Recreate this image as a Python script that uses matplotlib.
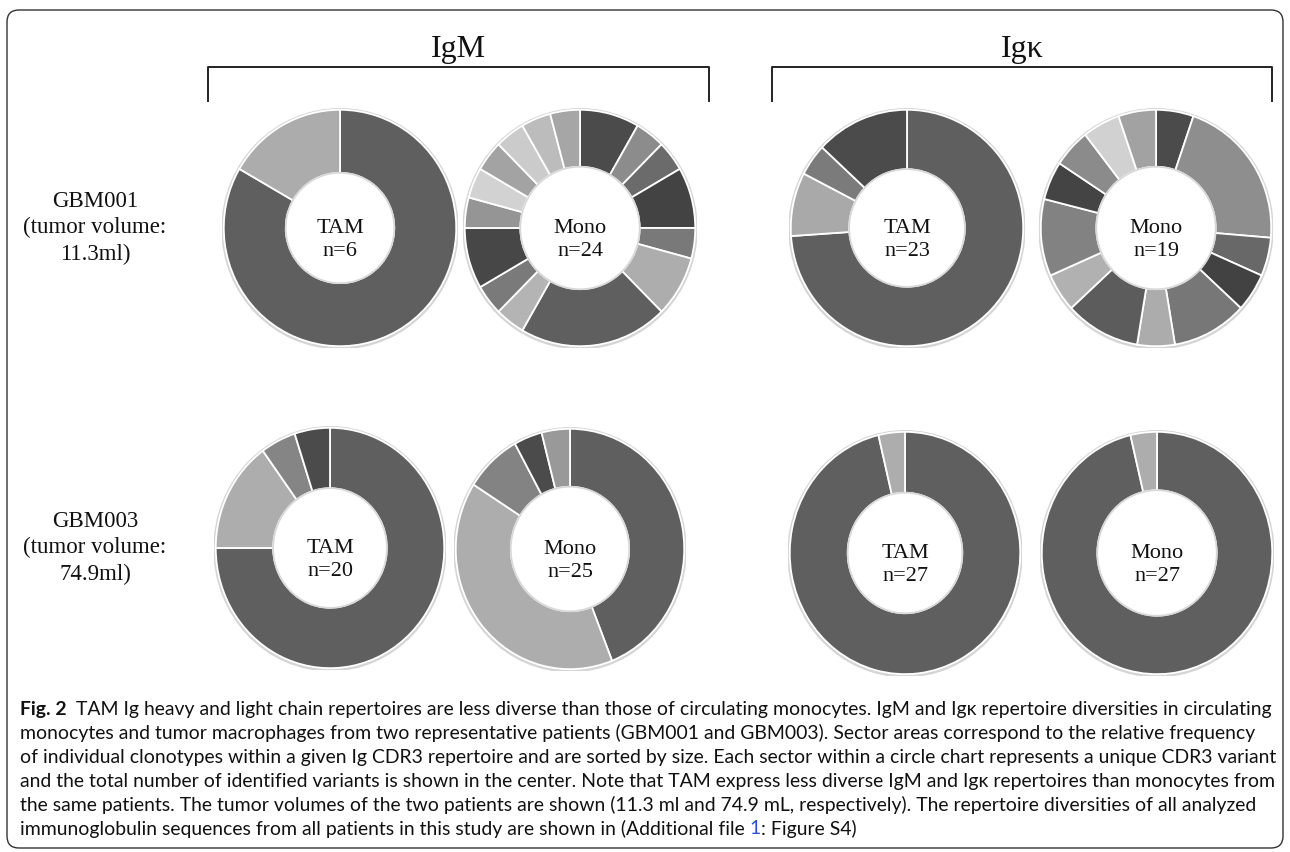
import matplotlib
matplotlib.use("Agg")
import matplotlib.pyplot as plt
from matplotlib.patches import Circle, FancyBboxPatch

W, H = 1290, 852

# sequence counts per clonotype (clockwise from 12 o'clock) and their grey tones
igm_001_tam = [5, 1]
igm_001_tam_col = ["#5f5f5f", "#acacac"]
igm_001_mono = [2, 1, 1, 2, 1, 2, 5, 1, 1, 2, 1, 1, 1, 1, 1, 1]
igm_001_mono_col = ["#4b4b4b", "#8c8c8c", "#6b6b6b", "#434343", "#797979", "#adadad",
                    "#5f5f5f", "#b4b4b4", "#7a7a7a", "#474747", "#959595", "#d2d2d2",
                    "#a3a3a3", "#cbcbcb", "#bcbcbc", "#a6a6a6"]
igk_001_tam = [17, 2, 1, 3]
igk_001_tam_col = ["#5f5f5f", "#a9a9a9", "#7b7b7b", "#4b4b4b"]
igk_001_mono = [1, 4, 1, 1, 2, 1, 2, 1, 2, 1, 1, 1, 1]
igk_001_mono_col = ["#4b4b4b", "#8e8e8e", "#686868", "#424242", "#777777", "#acacac",
                    "#5c5c5c", "#b1b1b1", "#828282", "#444444", "#8b8b8b", "#d1d1d1",
                    "#a2a2a2"]
igm_003_tam = [15, 3, 1, 1]
igm_003_tam_col = ["#5f5f5f", "#adadad", "#858585", "#4b4b4b"]
igm_003_mono = [11, 10, 2, 1, 1]
igm_003_mono_col = ["#5f5f5f", "#adadad", "#838383", "#4b4b4b", "#999999"]
igk_003_tam = [26, 1]
igk_003_tam_col = ["#5f5f5f", "#adadad"]
igk_003_mono = [26, 1]
igk_003_mono_col = ["#5f5f5f", "#adadad"]

chains = ["IgM", "Igκ"]
patients = ["GBM001\n(tumor volume:\n11.3ml)", "GBM003\n(tumor volume:\n74.9ml)"]

caption_lines = [
    "TAM Ig heavy and light chain repertoires are less diverse than those of circulating monocytes. IgM and Igκ repertoire diversities in circulating",
    "monocytes and tumor macrophages from two representative patients (GBM001 and GBM003). Sector areas correspond to the relative frequency",
    "of individual clonotypes within a given Ig CDR3 repertoire and are sorted by size. Each sector within a circle chart represents a unique CDR3 variant",
    "and the total number of identified variants is shown in the center. Note that TAM express less diverse IgM and Igκ repertoires than monocytes from",
    "the same patients. The tumor volumes of the two patients are shown (11.3 ml and 74.9 mL, respectively). The repertoire diversities of all analyzed",
    "immunoglobulin sequences from all patients in this study are shown in (Additional file ",
]

SERIF = "Liberation Serif"
SANS = "Lato"

fig = plt.figure(figsize=(W / 100, H / 100), dpi=100)
bg = fig.add_axes([0, 0, 1, 1])
bg.set_xlim(0, W)
bg.set_ylim(H, 0)
bg.axis("off")

# outer frame
bg.add_patch(FancyBboxPatch((7, 10), 1276, 838, boxstyle="round,pad=0,rounding_size=12",
                            fill=False, edgecolor="#333333", linewidth=1.0))

# chain headers and brackets
for name, (x0, x1) in zip(chains, [(208, 709), (772, 1272)]):
    bg.text((x0 + x1) / 2, 49, name, family=SERIF, fontsize=23, ha="center", va="center",
            color="#111111")
    bg.plot([x0, x0, x1, x1], [101, 67, 67, 101], color="#222222", lw=1.4)

# patient labels
for lab, y in zip(patients, [228, 548]):
    bg.text(95, y, lab, family=SERIF, fontsize=16.5, ha="center", va="center",
            linespacing=1.35, color="#111111")


def donut(cx, cy, rx, ry, counts, colors, label, hole):
    ax = fig.add_axes([(cx - rx) / W, 1 - (cy + ry) / H, 2 * rx / W, 2 * ry / H])
    ax.add_patch(Circle((0, -0.006), 1.0, color="#d5d5d5", zorder=0))
    ax.pie(counts, colors=colors, startangle=90, counterclock=False, radius=0.985,
           wedgeprops=dict(width=0.985 - hole, edgecolor="white", linewidth=1.3))
    ax.add_patch(Circle((0, 0), hole, facecolor="white", edgecolor="#d8d8d8", lw=1.2,
                        zorder=5))
    ax.set_aspect("auto")
    ax.set_xlim(-1, 1)
    ax.set_ylim(-1, 1)
    ax.axis("off")
    ax.text(0, -0.1, label, family=SERIF, fontsize=16, ha="center", va="center",
            linespacing=1.3, color="#111111", zorder=6)


donut(340, 228, 118, 120, igm_001_tam, igm_001_tam_col, "TAM\nn=6", 0.46)
donut(580, 228, 117, 120, igm_001_mono, igm_001_mono_col, "Mono\nn=24", 0.51)
donut(907, 228, 118, 120, igk_001_tam, igk_001_tam_col, "TAM\nn=23", 0.49)
donut(1156, 228, 117, 120, igk_001_mono, igk_001_mono_col, "Mono\nn=19", 0.51)
donut(330, 548, 116, 122, igm_003_tam, igm_003_tam_col, "TAM\nn=20", 0.49)
donut(570, 549, 116, 122, igm_003_mono, igm_003_mono_col, "Mono\nn=25", 0.51)
donut(905, 553, 117, 123, igk_003_tam, igk_003_tam_col, "TAM\nn=27", 0.49)
donut(1157, 553, 117, 123, igk_003_mono, igk_003_mono_col, "Mono\nn=27", 0.51)

# caption
renderer = fig.canvas.get_renderer()
cap_fs = 13.95
x_start = 20
y0, dy = 709, 24
inv = bg.transData.inverted()


def right_edge(t):
    bb = t.get_window_extent(renderer=renderer)
    return inv.transform((bb.x1, bb.y0))[0]


t = bg.text(x_start, y0, "Fig. 2", family=SANS, fontsize=cap_fs, weight="bold",
            ha="left", va="center", color="#111111")
bg.text(right_edge(t) + 9, y0, caption_lines[0], family=SANS, fontsize=cap_fs,
        ha="left", va="center", color="#111111")
for i, line in enumerate(caption_lines[1:], start=1):
    t = bg.text(x_start, y0 + i * dy, line, family=SANS, fontsize=cap_fs,
                ha="left", va="center", color="#111111")
t2 = bg.text(right_edge(t), y0 + 5 * dy, "1", family=SANS, fontsize=cap_fs,
             ha="left", va="center", color="#2b4fd6")
bg.text(right_edge(t2), y0 + 5 * dy, ": Figure S4)", family=SANS, fontsize=cap_fs,
        ha="left", va="center", color="#111111")

fig.savefig("out.png", dpi=100)
